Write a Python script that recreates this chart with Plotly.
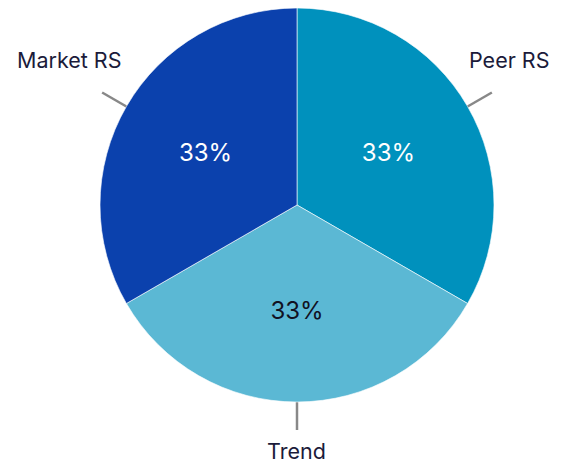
import math
import plotly.graph_objects as go

labels = ["Peer RS", "Trend", "Market RS"]
values = [1, 1, 1]
colors = ["#0091bd", "#5bb8d4", "#0b41ad"]
pct_colors = ["#ffffff", "#111122", "#ffffff"]

# page body has an 8px margin, so the figure is laid out in a slightly smaller box
W, H = 559, 456
CX, CY, R = 289, 197, 197
LINE_LEN = 28

fig = go.Figure()
fig.add_trace(go.Pie(
    labels=labels, values=values, sort=False, direction="clockwise", rotation=0,
    marker=dict(colors=colors, line=dict(color="rgba(255,255,255,0.6)", width=1)),
    texttemplate="%{percent:.0%}", textposition="inside",
    insidetextorientation="horizontal",
    insidetextfont=dict(family="Inter", size=24, color=pct_colors),
    domain=dict(x=[(CX - R) / W, (CX + R) / W],
                y=[max(0, 1 - (CY + R) / H), min(1, 1 - (CY - R) / H)]),
    showlegend=False, hoverinfo="label+percent",
))

def px2paper(x, y):
    return x / W, 1 - y / H

total = sum(values)
cum = 0
shapes, annots = [], []
for lab, v in zip(labels, values):
    mid = (cum + v / 2) / total * 2 * math.pi
    cum += v
    s, c = math.sin(mid), math.cos(mid)
    x0, y0 = CX + (R - 4) * s, CY - (R - 4) * c
    x1, y1 = CX + (R + LINE_LEN) * s, CY - (R + LINE_LEN) * c
    p0, p1 = px2paper(x0, y0), px2paper(x1, y1)
    shapes.append(dict(type="line", xref="paper", yref="paper", x0=p0[0], y0=p0[1],
                       x1=p1[0], y1=p1[1], line=dict(color="#888888", width=2.5), layer="below"))
    if abs(s) < 0.2:
        xs, ys, ya = 0, -6, "top" if c < 0 else "bottom"
    else:
        xs = 17 if s > 0 else -33
        ys = 17 if c > 0 else -17
        ya = "bottom" if c > 0 else "top"
    annots.append(dict(x=p1[0], y=p1[1], xref="paper", yref="paper", text=lab, showarrow=False,
                       xanchor="center", yanchor=ya, xshift=xs, yshift=ys,
                       font=dict(family="Inter", size=21.5, color="#1b1b3a")))

fig.update_layout(width=W, height=H, margin=dict(l=0, r=0, t=0, b=0),
                  paper_bgcolor="white", plot_bgcolor="white",
                  shapes=shapes, annotations=annots)
fig.write_html("out.html")
